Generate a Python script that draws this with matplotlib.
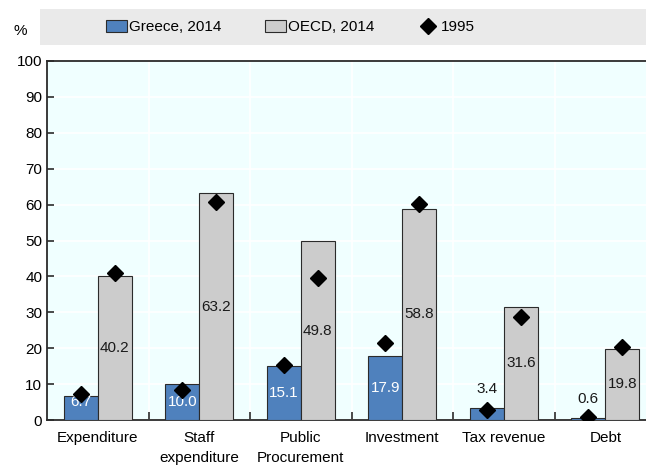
import matplotlib
matplotlib.use("Agg")
import matplotlib.pyplot as plt
import numpy as np
from matplotlib.patches import Rectangle, Patch
from matplotlib.lines import Line2D

plt.rcParams['font.family'] = ['Liberation Sans Narrow', 'Liberation Sans', 'DejaVu Sans']

categories = ["Expenditure", "Staff\nexpenditure", "Public\nProcurement",
              "Investment", "Tax revenue", "Debt"]
greece_2014 = [6.7, 10.0, 15.1, 17.9, 3.4, 0.6]
oecd_2014 = [40.2, 63.2, 49.8, 58.8, 31.6, 19.8]
greece_1995 = [7.2, 8.4, 15.3, 21.5, 2.8, 0.8]
oecd_1995 = [40.9, 60.8, 39.5, 60.2, 28.7, 20.3]
y_ticks = list(range(0, 101, 10))

BLUE = "#4F81BD"
GREY = "#CCCCCC"
EDGE = "#2B2B2B"
BG = "#F0FFFF"
FS = 11

fig = plt.figure(figsize=(6.46, 4.66), dpi=100)
ax = fig.add_axes([47 / 646, 1 - 420 / 466, 599 / 646, (420 - 61) / 466])
ax.set_facecolor(BG)

x = np.arange(len(categories))
w = 0.335
gx = x - w / 2
ox = x + w / 2

ax.bar(gx, greece_2014, width=w, color=BLUE, edgecolor=EDGE, linewidth=0.8, zorder=3)
ax.bar(ox, oecd_2014, width=w, color=GREY, edgecolor=EDGE, linewidth=0.8, zorder=3)
ax.plot(gx, greece_1995, linestyle="none", marker="D", ms=8, color="black", zorder=5)
ax.plot(ox, oecd_1995, linestyle="none", marker="D", ms=8, color="black", zorder=5)

# value labels: inside the bar when it is tall enough, above it otherwise
for xi, v in zip(gx, greece_2014):
    if v >= 5:
        ax.text(xi, max(v / 2, 5.0), f"{v:.1f}", ha="center", va="center",
                color="white", fontsize=FS, zorder=4)
    else:
        ax.annotate(f"{v:.1f}", (xi, v), xytext=(0, 13.5), textcoords="offset points",
                    ha="center", va="center", color="#1a1a1a", fontsize=FS, zorder=4)
for xi, v in zip(ox, oecd_2014):
    ax.text(xi, v / 2, f"{v:.1f}", ha="center", va="center",
            color="#1a1a1a", fontsize=FS, zorder=4)

ax.set_xlim(-0.5, 5.40)
ax.set_ylim(0, 100)
ax.set_yticks(y_ticks)
ax.set_xticks(x)
ax.set_xticklabels(categories, fontsize=FS, linespacing=1.5)
ax.set_xticks(np.arange(0.5, len(categories) - 0.5, 1), minor=True)
ax.tick_params(axis="x", which="major", length=0, pad=8)
ax.tick_params(axis="x", which="minor", length=6, direction="in", width=1.2, color=EDGE)
ax.tick_params(axis="y", length=5, direction="in", width=1.2, color=EDGE, labelsize=FS)

ax.grid(axis="y", color="white", linewidth=1.2, zorder=0)
ax.grid(axis="x", which="minor", color="white", linewidth=1.2, zorder=0)
for s in ("left", "bottom", "top"):
    ax.spines[s].set_color(EDGE)
    ax.spines[s].set_linewidth(1.3)
ax.spines["right"].set_visible(False)

fig.text(20 / 646, 1 - 31 / 466, "%", fontsize=FS, ha="center", va="center")

# legend band
fig.patches.append(Rectangle((40 / 646, 1 - 45 / 466), 606 / 646, 36 / 466,
                             transform=fig.transFigure, facecolor="#EAEAEA",
                             edgecolor="none", zorder=0))
handles = [Patch(facecolor=BLUE, edgecolor=EDGE, linewidth=0.8),
           Patch(facecolor=GREY, edgecolor=EDGE, linewidth=0.8),
           Line2D([], [], linestyle="none", marker="D", ms=8, color="black")]
fig.legend(handles, ["Greece, 2014", "OECD, 2014", "1995"], ncol=3, frameon=False,
           loc="center left", bbox_to_anchor=(92 / 646, 1 - 27 / 466),
           fontsize=FS, handlelength=1.4, handleheight=0.9, handletextpad=0.15,
           columnspacing=2.8)

fig.savefig("out.png", dpi=100)
